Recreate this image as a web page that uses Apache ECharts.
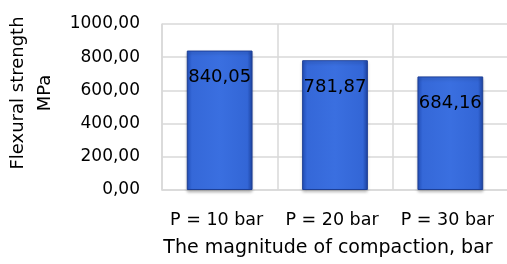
<!DOCTYPE html>
<html><head><meta charset="utf-8">
<script src="https://cdn.jsdelivr.net/npm/echarts@6/dist/echarts.min.js"></script>
<style>html,body{margin:0;padding:0;background:#fff}#c{width:507px;height:264px}</style>
</head><body><div id="c"></div>
<script>
var categories = ['P = 10 bar', 'P = 20 bar', 'P = 30 bar'];
var values = [840.05, 781.87, 684.16];
var yTicks = [0, 200, 400, 600, 800, 1000];
var yAxisTitle = 'Flexural strength\nMPa';
var xAxisTitle = 'The magnitude of compaction, bar';

var font = 'DejaVu Sans';
function fmt(v){ return v.toFixed(2).replace('.', ','); }
var chart = echarts.init(document.getElementById('c'), null, {renderer:'canvas'});
chart.setOption({
  animation:false,
  grid:{left:162, right:-1, top:24, bottom:74, containLabel:false, outerBoundsMode:'none'},
  xAxis:{
    type:'category', data:categories,
    axisLine:{show:true, lineStyle:{color:'#d9d9d9', width:1.5}},
    axisTick:{show:false},
    splitLine:{show:true, lineStyle:{color:'#d9d9d9', width:1.5}},
    axisLabel:{color:'#000', fontFamily:font, fontSize:17.5, margin:21, interval:0, padding:[0,6,0,0]},
    name:xAxisTitle, nameLocation:'middle', nameGap:49,
    nameTextStyle:{color:'#000', fontFamily:font, fontSize:19, padding:[0,14,0,0]}
  },
  yAxis:{
    type:'value', min:yTicks[0], max:yTicks[yTicks.length-1], interval:200,
    axisLine:{show:true, lineStyle:{color:'#d9d9d9', width:1.5}},
    axisTick:{show:false},
    splitLine:{show:true, lineStyle:{color:'#d9d9d9', width:1.5}},
    axisLabel:{color:'#000', fontFamily:font, fontSize:17, margin:22, formatter:function(v){return fmt(v);}},
    name:yAxisTitle, nameLocation:'middle', nameGap:100,
    nameTextStyle:{color:'#000', fontFamily:font, fontSize:18, lineHeight:27, padding:[0,0,0,28]}
  },
  series:[{
    type:'bar', data:values, barWidth:'57%',
    itemStyle:{
      color:new echarts.graphic.LinearGradient(0,0,1,0,[
        {offset:0,color:'#2452bf'},{offset:0.08,color:'#3568d8'},
        {offset:0.5,color:'#3a6fe0'},{offset:0.92,color:'#3366d6'},{offset:1,color:'#1f47a8'}]),
      borderColor:'#1d3f96', borderWidth:1,
      shadowColor:'rgba(0,0,0,0.25)', shadowBlur:3, shadowOffsetY:2
    },
    label:{show:true, position:'insideTop', distance:18, color:'#000', fontFamily:font, fontSize:18,
      formatter:function(p){return fmt(p.value);}}
  }]
});
</script></body></html>
